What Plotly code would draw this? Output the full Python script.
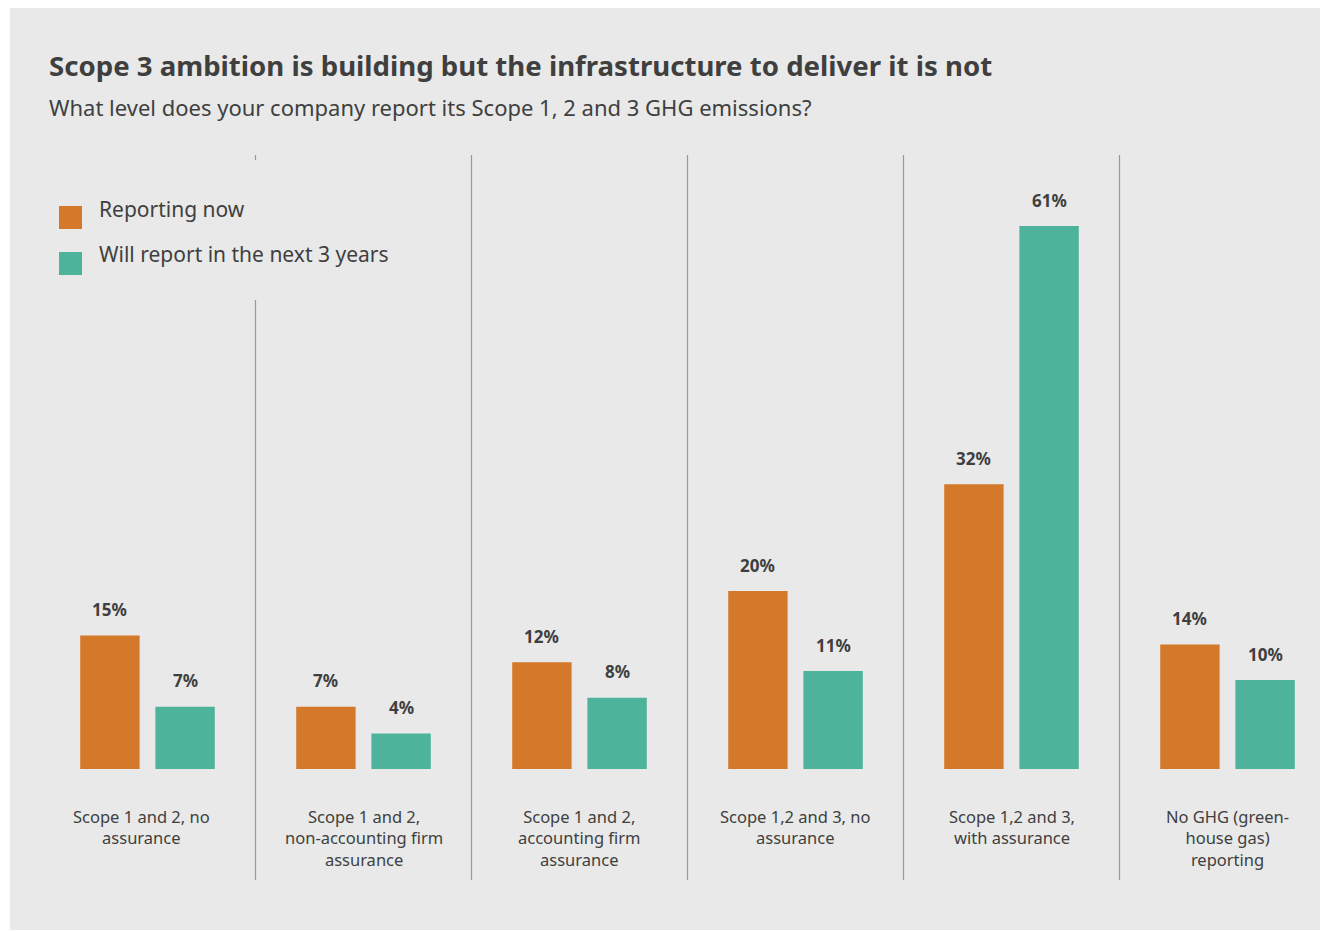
import plotly.graph_objects as go

# Survey results (% of respondents)
categories = [
    "Scope 1 and 2, no<br>assurance",
    "Scope 1 and 2,<br>non-accounting firm<br>assurance",
    "Scope 1 and 2,<br>accounting firm<br>assurance",
    "Scope 1,2 and 3, no<br>assurance",
    "Scope 1,2 and 3,<br>with assurance",
    "No GHG (green-<br>house gas)<br>reporting",
]
reporting_now = [15, 7, 12, 20, 32, 14]
next_3_years = [7, 4, 8, 11, 61, 10]
series_names = ["Reporting now", "Will report in the next 3 years"]

W, H = 1321, 931
ORANGE = "#d4782a"
TEAL = "#4db39b"
PANEL = "#e8e9e8"
TEXT = "#3f3f3f"
SEP = "#9a9a9a"
FONT = "Noto Sans"

# pixel geometry of the drawing
step = 216.0          # px per category
x_first = 147.5       # px centre of first group
base_px = 769.0       # px of the zero line
px_per_pct = 8.9

x_min = -x_first / step
x_max = x_min + W / step
y_max = base_px / px_per_pct
y_min = -(H - base_px) / px_per_pct

def pxx(p):
    return p / W

def pxy(p):
    return 1 - p / H

idx = list(range(len(categories)))
off = 0.174
bw = 0.275

fig = go.Figure()
fig.add_trace(go.Bar(x=[i - off for i in idx], y=reporting_now, width=bw,
                     marker=dict(color=ORANGE, line=dict(width=0)),
                     name=series_names[0], showlegend=False, hoverinfo="skip"))
fig.add_trace(go.Bar(x=[i + off for i in idx], y=next_3_years, width=bw,
                     marker=dict(color=TEAL, line=dict(width=0)),
                     name=series_names[1], showlegend=False, hoverinfo="skip"))

annotations = []
# value labels above bars
for i in idx:
    for xv, v in ((i - off, reporting_now[i]), (i + off, next_3_years[i])):
        annotations.append(dict(x=xv, y=v, xref="x", yref="y", text=f"<b>{v}%</b>",
                                showarrow=False, yanchor="middle", yshift=26,
                                font=dict(family=FONT, size=17, color=TEXT)))
# category labels
for i, c in enumerate(categories):
    shift = -6 if i == 0 else 0
    annotations.append(dict(x=i, y=pxy(803), xref="x", yref="paper", text=c,
                            showarrow=False, yanchor="top", align="center", xshift=shift,
                            font=dict(family=FONT, size=16.5, color=TEXT)))

# title and subtitle
annotations.append(dict(x=pxx(47), y=pxy(65), xref="paper", yref="paper",
                        text="<b>Scope 3 ambition is building but the infrastructure to deliver it is not</b>",
                        showarrow=False, xanchor="left", yanchor="middle",
                        font=dict(family=FONT, size=27.6, color=TEXT)))
annotations.append(dict(x=pxx(47), y=pxy(107), xref="paper", yref="paper",
                        text="What level does your company report its Scope 1, 2 and 3 GHG emissions?",
                        showarrow=False, xanchor="left", yanchor="middle",
                        font=dict(family=FONT, size=22, color=TEXT)))

shapes = []
# panel background
shapes.append(dict(type="rect", xref="paper", yref="paper", x0=pxx(10), x1=pxx(1320),
                   y0=pxy(930), y1=pxy(8), fillcolor=PANEL, line=dict(width=0), layer="below"))

# legend
legend_rows = [(series_names[0], ORANGE, 217.5, 209), (series_names[1], TEAL, 263.5, 254)]
for name, col, sq_c, txt_c in legend_rows:
    shapes.append(dict(type="rect", xref="paper", yref="paper", x0=pxx(59), x1=pxx(82),
                       y0=pxy(sq_c + 11.5), y1=pxy(sq_c - 11.5), fillcolor=col, line=dict(width=0)))
    annotations.append(dict(x=pxx(97), y=pxy(txt_c), xref="paper", yref="paper", text=name,
                            showarrow=False, xanchor="left", yanchor="middle",
                            font=dict(family=FONT, size=21, color=TEXT)))

# separators between categories
for i in idx[:-1]:
    xs = i + 0.5
    if i == 0:
        segs = [(155, 160), (300, 880)]
    else:
        segs = [(155, 880)]
    for a, b in segs:
        shapes.append(dict(type="line", xref="x", yref="paper", x0=xs, x1=xs,
                           y0=pxy(b), y1=pxy(a), line=dict(color=SEP, width=1.2)))

fig.update_layout(
    width=W, height=H,
    margin=dict(l=0, r=0, t=0, b=0),
    paper_bgcolor="white", plot_bgcolor="rgba(0,0,0,0)",
    barmode="overlay",
    xaxis=dict(range=[x_min, x_max], visible=False, fixedrange=True),
    yaxis=dict(range=[y_min, y_max], visible=False, fixedrange=True),
    annotations=annotations, shapes=shapes,
    font=dict(family=FONT, color=TEXT),
)

fig.write_html("out.html", config={"displayModeBar": False})
